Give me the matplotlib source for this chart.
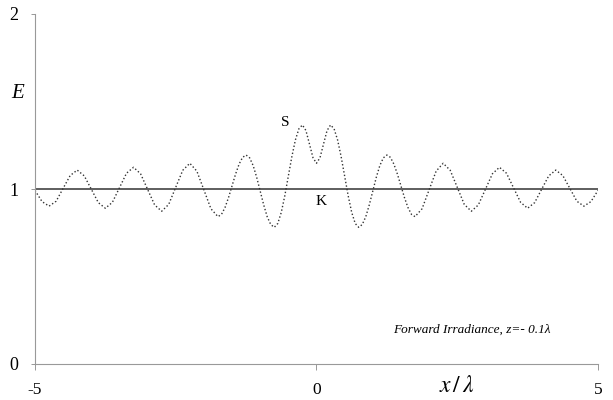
import matplotlib
matplotlib.use("Agg")
import matplotlib.pyplot as plt

plt.rcParams['font.family'] = ['Liberation Serif', 'DejaVu Serif']
plt.rcParams['mathtext.fontset'] = 'stix'

# S curve (right half; the left half mirrors it)
s_x_right = [0.0, 0.0625, 0.125, 0.1875, 0.25, 0.3125, 0.375, 0.4375,
             0.5, 0.5625, 0.625, 0.6875, 0.75, 0.8125, 0.875, 0.9375,
             1.0, 1.0625, 1.125, 1.1875, 1.25, 1.3125, 1.375, 1.4375,
             1.5, 1.5625, 1.625, 1.6875, 1.75, 1.875, 2.0, 2.125,
             2.25, 2.375, 2.5, 2.625, 2.75, 2.875, 3.0, 3.125,
             3.25, 3.375, 3.5, 3.625, 3.75, 3.875, 4.0, 4.125,
             4.25, 4.375, 4.5, 4.625, 4.75, 4.875, 5.0]
s_y_right = [1.147, 1.179, 1.257, 1.334, 1.366, 1.344, 1.280, 1.185,
             1.074, 0.962, 0.867, 0.803, 0.781, 0.797, 0.841, 0.909,
             0.988, 1.067, 1.134, 1.178, 1.194, 1.181, 1.142, 1.085,
             1.018, 0.951, 0.894, 0.855, 0.842, 0.887, 0.995, 1.102,
             1.147, 1.107, 1.010, 0.912, 0.873, 0.909, 0.998, 1.087,
             1.124, 1.090, 1.007, 0.924, 0.890, 0.922, 0.999, 1.075,
             1.108, 1.077, 1.004, 0.930, 0.902, 0.928, 0.992]
s_x = [-v for v in s_x_right[:0:-1]] + s_x_right
s_y = s_y_right[:0:-1] + s_y_right

# K reference level
k_x = [-5, 5]
k_y = [1, 1]

x_ticks = [-5, 0, 5]
y_ticks = [0, 1, 2]

fig = plt.figure(figsize=(6.13, 4.0), dpi=100)
ax = fig.add_axes([0.0571, 0.09, 0.9184, 0.875])

ax.plot(k_x, k_y, color='#333333', lw=1.1, solid_capstyle='butt')
ax.plot(s_x, s_y, color='#333333', lw=1.0, ls=(0, (1, 1.6)))

ax.set_xlim(-5, 5)
ax.set_ylim(0, 2)
ax.set_xticks(x_ticks)
ax.set_yticks(y_ticks)
ax.set_xticklabels([str(t) for t in x_ticks])
ax.set_yticklabels([str(t) for t in y_ticks])
ax.tick_params(axis='y', length=3, width=0.6, color='#888888', pad=9,
               labelsize=13)
ax.tick_params(axis='x', length=4, width=0.6, color='#888888', pad=9,
               labelsize=12.5)

for side in ['top', 'right']:
    ax.spines[side].set_visible(False)
for side in ['left', 'bottom']:
    ax.spines[side].set_color('#999999')
    ax.spines[side].set_linewidth(0.8)

fig.text(18 / 613, 1 - 93 / 400, 'E', fontsize=15, style='italic',
         ha='center', va='center')
fig.text(457 / 613, 1 - 386 / 400, r'$x\,/\,\lambda$', fontsize=17,
         ha='center', va='center')

ax.text(-0.55, 1.38, 'S', fontsize=11, ha='center', va='center')
ax.text(0.08, 0.93, 'K', fontsize=11, ha='center', va='center')
ax.text(4.15, 0.195, 'Forward Irradiance, z=- 0.1λ', fontsize=9.5,
        style='italic', ha='right', va='center')

fig.savefig('out.png', dpi=100)
